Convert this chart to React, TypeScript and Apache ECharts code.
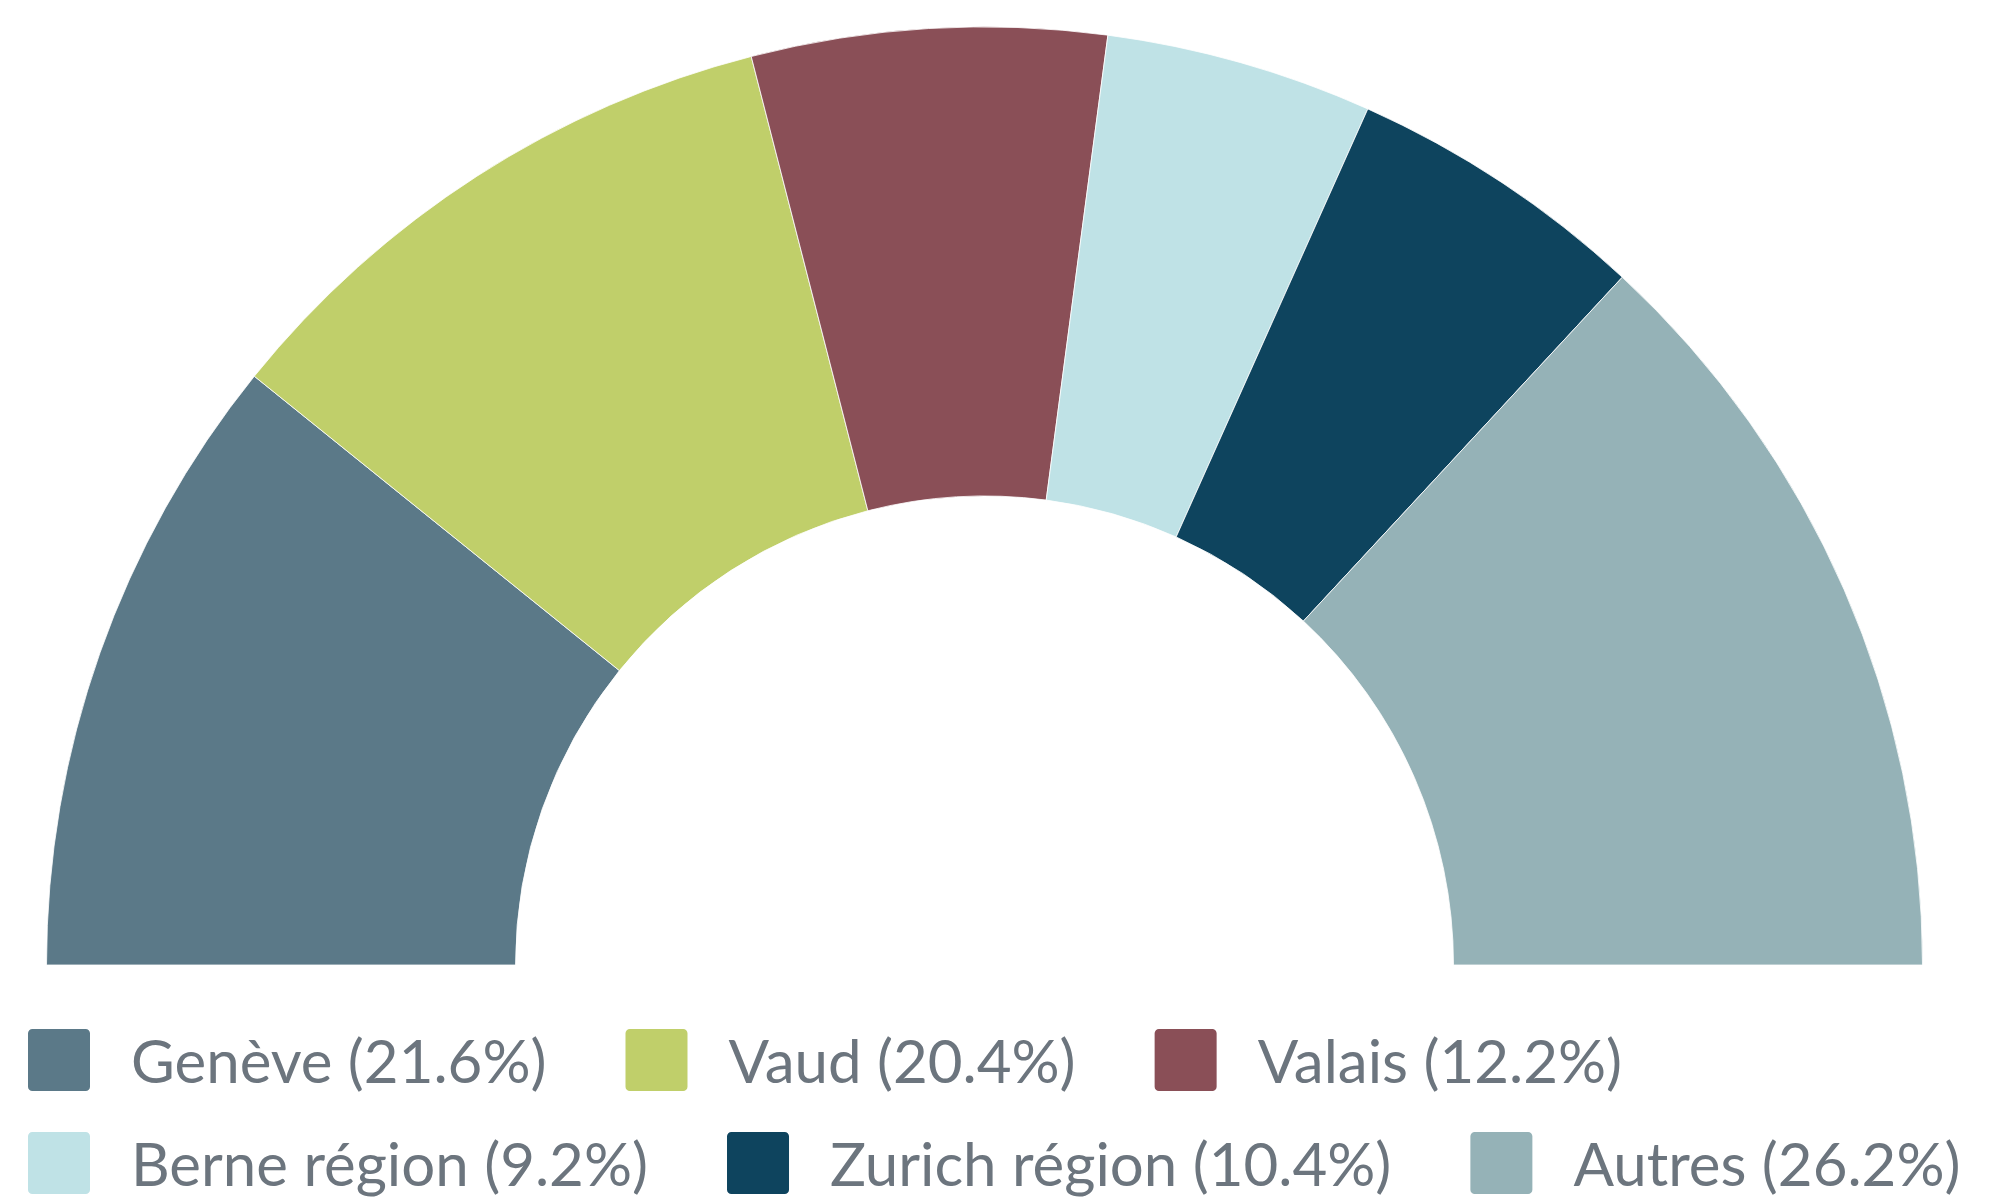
import React, { useEffect, useRef } from "react";
import * as echarts from "echarts";

const categories = ["Genève", "Vaud", "Valais", "Berne région", "Zurich région", "Autres"];
const shares = [21.6, 20.4, 12.2, 9.2, 10.4, 26.2];
const colors = ["#5b7988", "#c0cf6a", "#8a4f57", "#bfe2e6", "#0e445e", "#95b2b7"];
const legendRow1 = categories.slice(0, 3);
const legendRow2 = categories.slice(3);

const ICON = "path://M7,0H93A7,7,0,0,1,100,7V93A7,7,0,0,1,93,100H7A7,7,0,0,1,0,93V7A7,7,0,0,1,7,0Z";

export default function App() {
  const ref = useRef<HTMLDivElement>(null);
  useEffect(() => {
    document.body.style.margin = "0";
    const chart = echarts.init(ref.current!, null, { renderer: "svg" });
    const fmt = (name: string) => {
      const i = categories.indexOf(name);
      return `${name} (${shares[i].toFixed(1)}%)`;
    };
    const legendBase = {
      orient: "horizontal",
      left: 28,
      padding: 0,
      itemWidth: 62,
      itemHeight: 62,
      itemGap: 79,
      icon: ICON,
      itemStyle: { borderWidth: 0 },
      formatter: fmt,
      textStyle: {
        fontFamily: "Lato",
        fontSize: 60,
        color: "#6c757e",
        lineHeight: 62,
        padding: [0, 0, 0, 36],
      },
    };
    chart.setOption({
      animation: false,
      color: colors,
      legend: [
        { ...legendBase, top: 1029, data: legendRow1 },
        { ...legendBase, top: 1132, data: legendRow2 },
      ],
      series: [
        {
          type: "pie",
          center: [984.5, 965],
          radius: [469, 938],
          startAngle: 180,
          endAngle: 0,
          clockwise: true,
          label: { show: false },
          labelLine: { show: false },
          itemStyle: { borderColor: "#ffffff", borderWidth: 0.8 },
          emphasis: { disabled: true },
          data: categories.map((c, i) => ({ name: c, value: shares[i] })),
        },
      ],
    });
    return () => chart.dispose();
  }, []);
  return <div ref={ref} style={{ width: 2014, height: 1201 }} />;
}
